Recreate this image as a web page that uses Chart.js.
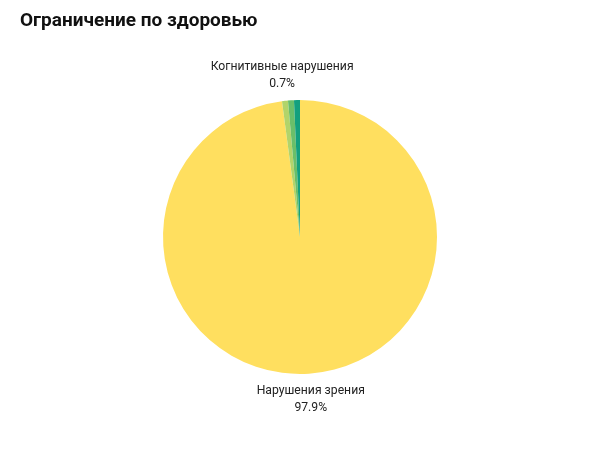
<!DOCTYPE html>
<html>
<head>
<meta charset="utf-8">
<script src="https://cdn.jsdelivr.net/npm/chart.js@4"></script>
<style>
  body { margin: 0; background: #fff; }
  #wrap { position: relative; width: 600px; height: 450px; }
  #title { position: absolute; left: 20px; top: 8px; font: bold 19px Roboto, sans-serif; color: #111; }
  canvas { position: absolute; left: 0; top: 0; }
</style>
</head>
<body>
<div id="wrap">
  <canvas id="pieChart" width="600" height="450"></canvas>
  <div id="title">Ограничение по здоровью</div>
</div>
<script>
const categories = ['Нарушения зрения', 'Когнитивные нарушения', 'Нарушения слуха', 'Нарушения опорно-двигательного аппарата'];
const values = [97.9, 0.7, 0.7, 0.7];
const colors = ['#FFDF5F', '#B2D46A', '#6ABF6A', '#13A07E'];
const shownLabels = [true, true, false, false];

const outsideLabels = {
    id: 'outsideLabels',
    afterDraw: function(chart) {
        const ctx = chart.ctx;
        const meta = chart.getDatasetMeta(0);
        ctx.save();
        ctx.font = '12.2px Roboto, sans-serif';
        ctx.fillStyle = '#222';
        ctx.textAlign = 'center';
        ctx.textBaseline = 'middle';
        meta.data.forEach(function(arc, i) {
            if (!shownLabels[i]) return;
            const mid = (arc.startAngle + arc.endAngle) / 2;
            const r = arc.outerRadius + 26;
            const x = arc.x + Math.cos(mid) * r;
            const y = arc.y + Math.sin(mid) * r;
            ctx.fillText(categories[i], x, y - 8.5);
            ctx.fillText(values[i].toFixed(1) + '%', x, y + 8.5);
        });
        ctx.restore();
    }
};

const ctx = document.getElementById('pieChart').getContext('2d');
new Chart(ctx, {
    type: 'pie',
    data: {
        labels: categories,
        datasets: [{
            data: values,
            backgroundColor: colors,
            borderWidth: 0
        }]
    },
    options: {
        responsive: false,
        animation: false,
        layout: {
            padding: { top: 100, bottom: 76, left: 150, right: 150 }
        },
        plugins: {
            legend: { display: false },
            tooltip: { enabled: false }
        }
    },
    plugins: [outsideLabels]
});
</script>
</body>
</html>
